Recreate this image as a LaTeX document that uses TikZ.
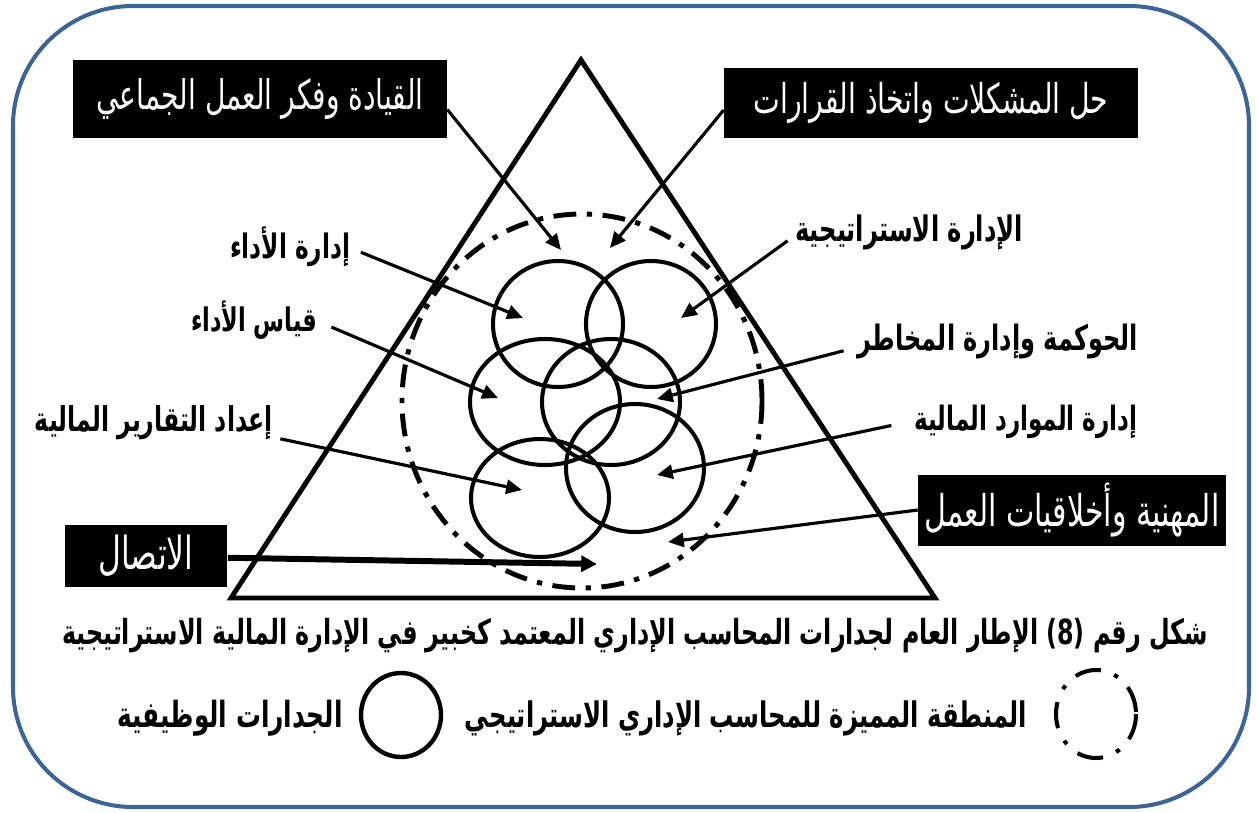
\documentclass[tikz,border=0pt]{standalone}
\usepackage{fontspec}
\usepackage{graphicx}
\TeXXeTstate=1
\newfontfamily\arabicfont[Script=Arabic]{DejaVu Sans}
\usetikzlibrary{arrows.meta}
\definecolor{frameblue}{RGB}{60,100,150}
\newcommand\artxt[2]{\scalebox{1}[1.45]{\resizebox{\dimexpr 0.02cm*#1\relax}{!}{\arabicfont #2}}}
\newcommand\arbold[2]{\scalebox{1}[1.45]{\resizebox{\dimexpr 0.02cm*#1\relax}{!}{\arabicfont\bfseries #2}}}
\tikzset{
  blackbox/.style={fill=black, text=white, inner sep=0pt},
  lbl/.style={text=black, inner sep=3pt},
  comp/.style={line width=2.3pt},
  zone/.style={line width=2.8pt, dash pattern=on 13pt off 6pt on 3pt off 6pt},
  arr/.style={line width=1.8pt, -{Triangle[length=9pt,width=8pt]}},
  thickarr/.style={line width=3.4pt, -{Triangle[length=9pt,width=9pt]}}
}
\begin{document}
\begin{tikzpicture}[x={(0.02cm,0)}, y={(0,-0.02cm)}]
\useasboundingbox (0,0) rectangle (1258,812);
% frame
\draw[frameblue, line width=2.3pt, rounded corners=2.4cm] (13,6) rectangle (1249,807);
% triangle
\draw[line width=2.8pt, line join=miter] (581,60) -- (935,598) -- (231,598) -- cycle;
% zone
\draw[zone] (582,401) ellipse [x radius=180, y radius=187];
% competence circles
\draw[comp] (558,324) ellipse [x radius=65, y radius=63];
\draw[comp] (651,324) ellipse [x radius=65, y radius=63];
\draw[comp] (545,402) ellipse [x radius=75, y radius=63];
\draw[comp] (611,402) ellipse [x radius=69, y radius=63];
\draw[comp] (540,498) ellipse [x radius=69, y radius=59];
\draw[comp] (635,468) ellipse [x radius=69, y radius=64];
% black boxes
\node[blackbox, minimum width=7.48cm, minimum height=1.56cm] (b1) at (260,99) {\artxt{327}{\beginR القيادة وفكر العمل الجماعي\endR}};
\node[blackbox, minimum width=8.28cm, minimum height=1.4cm] (b2) at (931,103) {\artxt{355}{\beginR حل المشكلات واتخاذ القرارات\endR}};
\node[blackbox, minimum width=6.16cm, minimum height=1.42cm] (b3) at (1072,510) {\artxt{295}{\beginR المهنية وأخلاقيات العمل\endR}};
\node[blackbox, minimum width=3.26cm, minimum height=1.24cm] (b4) at (146,556) {\artxt{95}{\beginR الاتصال\endR}};
% labels
\node[lbl] (l1) at (290,247) {\arbold{120}{\beginR إدارة الأداء\endR}};
\node[lbl] (l2) at (909,232) {\arbold{228}{\beginR الإدارة الاستراتيجية\endR}};
\node[lbl] (l3) at (254,320) {\arbold{126}{\beginR قياس الأداء\endR}};
\node[lbl] (l4) at (998,342) {\arbold{280}{\beginR الحوكمة وإدارة المخاطر\endR}};
\node[lbl] (l5) at (154,423) {\arbold{238}{\beginR إعداد التقارير المالية\endR}};
\node[lbl] (l6) at (1026,422) {\arbold{223}{\beginR إدارة الموارد المالية\endR}};
% arrow tips
\coordinate (t1) at (561,250);
\coordinate (t2) at (610,248);
\coordinate (t3) at (523,318);
\coordinate (t4) at (681,318);
\coordinate (t5) at (498,398);
\coordinate (t6) at (657,399);
\coordinate (t7) at (522,490);
\coordinate (t8) at (657,475);
\coordinate (t9) at (668,542);
\coordinate (t10) at (597,564);
% arrows
\draw[arr] ([yshift=-6pt]b1.east) -- (t1);
\draw[arr] ([yshift=-4pt]b2.west) -- (t2);
\draw[arr] ([xshift=3pt,yshift=-3pt]l1.east) -- (t3);
\draw[arr] ([xshift=-1pt,yshift=-5pt]l2.west) -- (t4);
\draw[arr] ([xshift=5pt,yshift=-4pt]l3.east) -- (t5);
\draw[arr] ([xshift=-5pt,yshift=-5pt]l4.west) -- (t6);
\draw[arr] ([xshift=1pt,yshift=-9pt]l5.east) -- (t7);
\draw[arr] ([xshift=-10pt,yshift=-2pt]l6.west) -- (t8);
\draw[arr] (b3.west) -- (t9);
\draw[thickarr] ([yshift=-1pt]b4.east) -- (t10);
% caption
\node[inner sep=0pt] (cap) at (635,636) {\arbold{1146}{\beginR شكل رقم \beginL(8)\endL{} الإطار العام لجدارات المحاسب الإداري المعتمد كخبير في الإدارة المالية الاستراتيجية\endR}};
% legend
\node[inner sep=0pt] (leg1) at (230,718) {\arbold{225}{\beginR الجدارات الوظيفية\endR}};
\draw[line width=2.5pt] (401,715) ellipse [x radius=40, y radius=42];
\node[inner sep=0pt] (leg2) at (746,718) {\arbold{562}{\beginR المنطقة المميزة للمحاسب الإداري الاستراتيجي\endR}};
\draw[line width=2.3pt, dash pattern=on 15pt off 8pt on 2.5pt off 8pt] (1096,714) ellipse [x radius=40, y radius=44];
\end{tikzpicture}
\end{document}
